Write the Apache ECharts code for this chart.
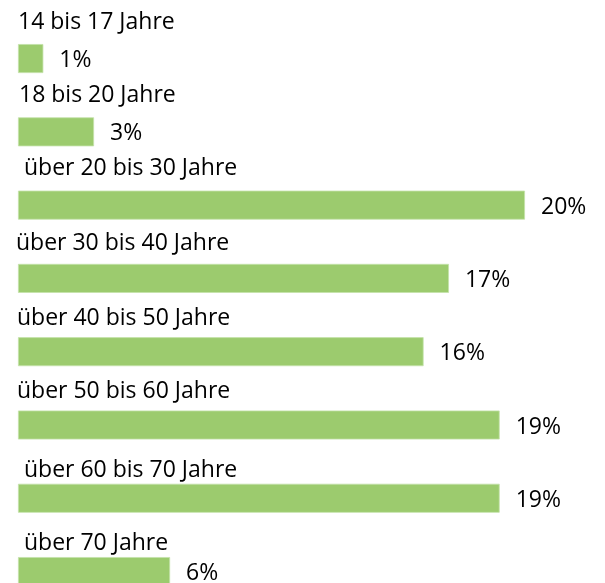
<!DOCTYPE html>
<html>
<head>
<meta charset="utf-8">
<script src="https://cdn.jsdelivr.net/npm/echarts@6/dist/echarts.min.js"></script>
<style>
  html, body { margin: 0; padding: 0; background: #fff; overflow: hidden; }
  /* taller than the window: the last bar runs past the bottom edge, like in the original */
  #chart-bar { width: 605px; height: 612px; }
</style>
</head>
<body>
<div id="chart-bar"></div>
<script>
// Altersgruppen und Anteile in Prozent
const categories = [
  "14 bis 17 Jahre",
  "18 bis 20 Jahre",
  "über 20 bis 30 Jahre",
  "über 30 bis 40 Jahre",
  "über 40 bis 50 Jahre",
  "über 50 bis 60 Jahre",
  "über 60 bis 70 Jahre",
  "über 70 Jahre"
];
const shares = [1, 3, 20, 17, 16, 19, 19, 6];

const font = "'Open Sans', 'Noto Sans', sans-serif";

// each row label sits a bit differently above its bar: [up, right]
const labelShift = [[36, 0], [36, 1], [37, 6], [35, -2], [33, -1], [34, -1], [28, 6], [28, 6]];
let richRows = {};
labelShift.forEach((s, i) => {
  richRows['r' + i] = {
    color: "#000",
    fontSize: 23,
    fontFamily: font,
    padding: [0, 0, s[0] * 2, s[1]],
  };
});

let myBarChart = echarts.init(document.getElementById("chart-bar"));
let barOption = {
  backgroundColor: '#fff',
  animation: false,
  grid: {
    top: 21.9,
    left: 18,
    right: 29.3,
    height: 586.3,
  },
  xAxis: {
    type: "value",
    min: 0,
    max: 22,
    show: false,
  },
  yAxis: {
    type: "category",
    inverse: true,
    data: categories,
    axisLine: { show: false },
    axisTick: { show: false },
    splitLine: { show: false },
    axisLabel: {
      inside: true,
      interval: 0,
      margin: 0,
      hideOverlap: false,
      formatter: (value, index) => '{r' + index + '|' + value + '}',
      rich: richRows,
    },
  },
  series: [
    {
      type: "bar",
      data: shares,
      barWidth: 29,
      itemStyle: {
        color: "#9ccb6e",
        borderColor: "#c4e2a9",
        borderWidth: 0.8,
      },
      label: {
        show: true,
        position: "right",
        distance: 16,
        offset: [0, 2],
        formatter: "{c}%",
        color: "#000",
        fontSize: 23,
        fontFamily: font,
      },
    },
  ],
};
myBarChart.setOption(barOption);
</script>
</body>
</html>
